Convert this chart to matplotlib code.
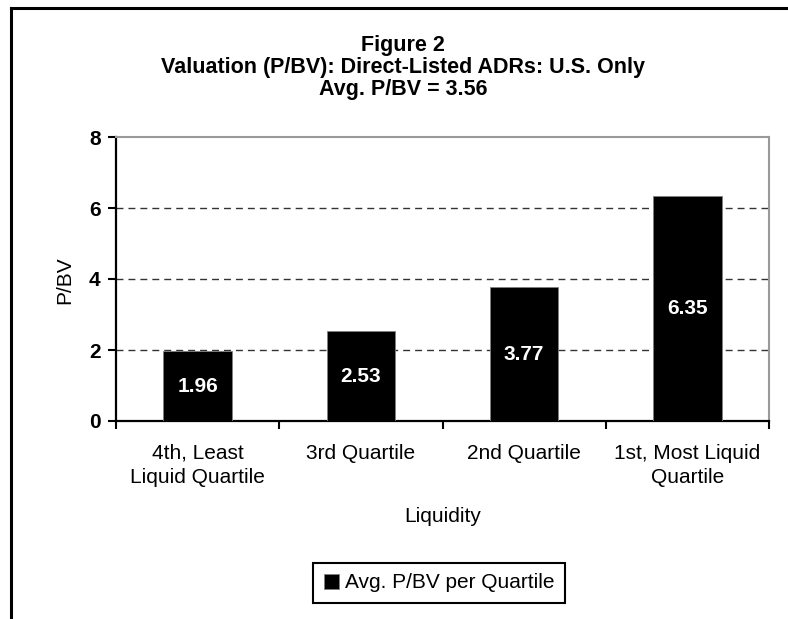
import matplotlib
matplotlib.use('Agg')
import matplotlib.pyplot as plt
from matplotlib.lines import Line2D
import numpy as np

plt.rcParams['font.family'] = ['Liberation Sans', 'DejaVu Sans']
plt.rcParams['lines.scale_dashes'] = False

quartiles = ['4th, Least\nLiquid Quartile', '3rd Quartile', '2nd Quartile',
             '1st, Most Liquid\nQuartile']
avg_pbv = [1.96, 2.53, 3.77, 6.35]
y_ticks = [0, 2, 4, 6, 8]

W, H = 788, 619
fig = plt.figure(figsize=(W / 100, H / 100), dpi=100)
ax = fig.add_axes([116 / W, 1 - 421 / H, (769 - 116) / W, (421 - 137) / H])

x = np.arange(len(quartiles))
bars = ax.bar(x, avg_pbv, width=0.42, color='black', edgecolor='#808080',
              linewidth=0.6, label='Avg. P/BV per Quartile', zorder=3)

for rect, v in zip(bars, avg_pbv):
    ax.text(rect.get_x() + rect.get_width() / 2, v / 2, '%.2f' % v,
            color='white', fontsize=15, fontweight='bold',
            ha='center', va='center', zorder=4)

ax.set_xlim(-0.5, len(quartiles) - 0.5)
ax.set_ylim(0, 8)
ax.set_yticks(y_ticks)
ax.set_yticklabels([str(t) for t in y_ticks], fontsize=15, fontweight='bold')
ax.tick_params(axis='y', direction='out', length=6, width=1.5, pad=5)

# category ticks sit between the bars, labels sit under the bars
ax.set_xticks(np.arange(len(quartiles) + 1) - 0.5)
ax.set_xticklabels([])
ax.set_xticks(x, minor=True)
ax.set_xticklabels(quartiles, minor=True, fontsize=15, linespacing=1.36)
ax.tick_params(axis='x', which='major', direction='out', length=6, width=1.5)
ax.tick_params(axis='x', which='minor', length=0, pad=16.5)

for yv in y_ticks[1:-1]:
    ax.axhline(yv, color='#333333', linewidth=1, linestyle=(0, (5, 3.6)), zorder=1)

for side in ['left', 'bottom']:
    ax.spines[side].set_linewidth(1.6)
    ax.spines[side].set_color('black')
for side in ['top', 'right']:
    ax.spines[side].set_linewidth(1.5)
    ax.spines[side].set_color('#999999')

ax.set_ylabel('P/BV', fontsize=15, va='center')
ax.yaxis.set_label_coords((65 - 116) / 653, (421 - 280) / 284)
ax.set_xlabel('Liquidity', fontsize=15, va='center')
ax.xaxis.set_label_coords(0.5, (421 - 516) / 284)

titles = ['Figure 2', 'Valuation (P/BV): Direct-Listed ADRs: U.S. Only',
          'Avg. P/BV = 3.56']
for i, t in enumerate(titles):
    fig.text(403 / W, 1 - (45 + 22 * i) / H, t, fontsize=15.5,
             fontweight='bold', ha='center', va='center')

leg = fig.legend(handles=[bars], labels=['Avg. P/BV per Quartile'],
                 loc='center', bbox_to_anchor=(439 / W, 1 - 583 / H),
                 fontsize=15, fancybox=False, edgecolor='black',
                 framealpha=1, handlelength=0.75, handleheight=0.75,
                 handletextpad=0.25, borderpad=0.5, borderaxespad=0)
leg.get_frame().set_linewidth(1.5)

# outer frame of the exhibit (cut at right and bottom)
fig.add_artist(Line2D([11 / W, 11 / W], [0, 1 - 8 / H], transform=fig.transFigure,
                      color='black', linewidth=2.2))
fig.add_artist(Line2D([11 / W, 1], [1 - 8 / H, 1 - 8 / H], transform=fig.transFigure,
                      color='black', linewidth=2.2))

fig.savefig('out.png', dpi=100)
